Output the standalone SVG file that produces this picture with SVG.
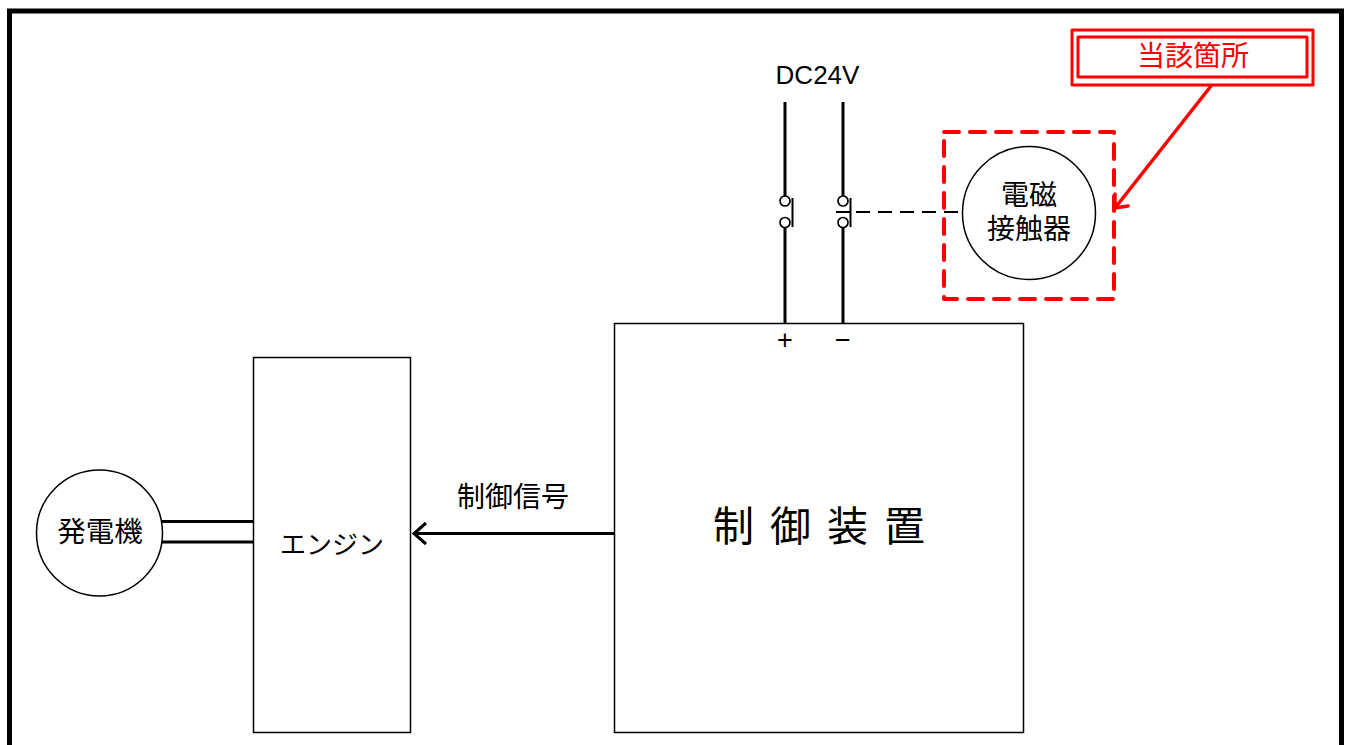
<svg xmlns="http://www.w3.org/2000/svg" width="1351" height="745" viewBox="0 0 1351 745">
<style>
text{font-family:"Noto Sans CJK JP","Liberation Sans",sans-serif;fill:#000;text-anchor:middle}
.box{fill:#fff;stroke:#000;stroke-width:1.500}
.w{fill:none;stroke:#000;stroke-width:3}
.t{fill:#fff;stroke:#000;stroke-width:1.700}
.red{fill:none;stroke:#f00;stroke-linecap:round;stroke-linejoin:round}
</style>
<rect width="1351" height="745" fill="#fff"/>
<path d="M9.500 745V11H1341.500V745" fill="none" stroke="#000" stroke-width="5"/>
<g id="connectors">
<path class="w" d="M785 102V197M785 227V324M843 102V197M843 227V324"/>
<path d="M792.500 198V227M850.500 198V227M836 212H850" fill="none" stroke="#000" stroke-width="2"/>
<path d="M856 212H962" fill="none" stroke="#000" stroke-width="1.800" stroke-dasharray="14 8"/>
<path class="w" d="M162 521.500H253M162 542H254"/>
<path class="w" d="M616 533.500H414M426 523L414 533.500L426 544" stroke-width="3.500"/>
<path class="red" stroke-width="3.500" d="M1211 86L1115 208M1115 194V208L1128 206"/>
</g>
<g id="switch1"><circle class="t" cx="785" cy="201" r="5"/><circle class="t" cx="785" cy="222.500" r="5"/></g>
<g id="switch2"><circle class="t" cx="843" cy="201" r="5"/><circle class="t" cx="843" cy="222.500" r="5"/></g>
<g id="dc24v"><text x="817.500" y="84" font-size="26" style="font-family:'Liberation Sans',sans-serif">DC24V</text></g>
<g id="contactor-area"><rect class="red" x="944" y="132" width="170" height="167" stroke-width="4" stroke-dasharray="15 11"/></g>
<g id="contactor"><circle cx="1029" cy="213" r="66.500" fill="#fff" stroke="#000" stroke-width="1.500"/>
<text font-size="28"><tspan x="1029" y="205">電磁</tspan><tspan x="1029" y="239">接触器</tspan></text></g>
<g id="callout"><rect class="red" x="1072" y="30" width="241" height="55" stroke-width="3"/><rect class="red" x="1078" y="37" width="229" height="40" stroke-width="3"/>
<text x="1193" y="66" font-size="28" style="fill:#f00">当該箇所</text></g>
<g id="controller"><rect class="box" x="614.500" y="323.500" width="409" height="409"/>
<text x="785" y="349" font-size="27" style="font-family:'Liberation Sans',sans-serif">+</text><text x="843" y="349" font-size="27" style="font-family:'Liberation Sans',sans-serif">−</text>
<text x="827" y="541" font-size="41" letter-spacing="16">制御装置</text></g>
<g id="engine"><rect class="box" x="253.500" y="357.500" width="157" height="375"/>
<text x="332" y="554" font-size="26">エンジン</text></g>
<g id="generator"><circle cx="99.500" cy="533" r="63" fill="#fff" stroke="#000" stroke-width="1.500"/>
<text x="100" y="542" font-size="28.500">発電機</text></g>
<g id="signal-label"><text x="513" y="507" font-size="28">制御信号</text></g>
</svg>
